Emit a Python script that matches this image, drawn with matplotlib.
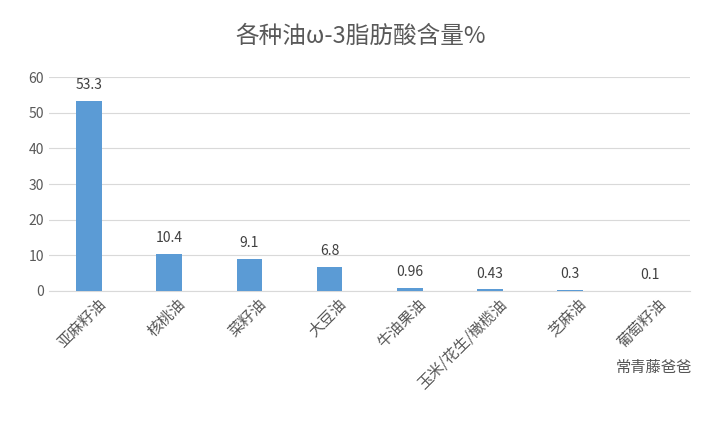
import matplotlib
matplotlib.use("Agg")
import matplotlib.pyplot as plt
from matplotlib.transforms import ScaledTranslation

plt.rcParams['font.family'] = ['Noto Sans CJK SC', 'DejaVu Sans']

categories = ["亚麻籽油", "核桃油", "菜籽油", "大豆油", "牛油果油", "玉米/花生/橄榄油", "芝麻油", "葡萄籽油"]
values = [53.3, 10.4, 9.1, 6.8, 0.96, 0.43, 0.3, 0.1]
labels = ["53.3", "10.4", "9.1", "6.8", "0.96", "0.43", "0.3", "0.1"]
yticks = [0, 10, 20, 30, 40, 50, 60]

fig = plt.figure(figsize=(7.22, 4.26), dpi=100)
ax = fig.add_axes([0.068, 0.317, 0.888, 0.502])
x = range(len(categories))
ax.bar(x, values, width=0.32, color="#5B9BD5", zorder=3)
for i, (v, t) in enumerate(zip(values, labels)):
    ax.text(i, v + 2.5, t, ha="center", va="bottom", fontsize=10, color="#404040")
ax.set_ylim(0, 60)
ax.set_xlim(-0.5, len(categories) - 0.5)
ax.set_yticks(yticks)
ax.tick_params(axis="y", length=0, labelsize=10, colors="#595959")
ax.tick_params(axis="x", length=0, labelsize=11, colors="#595959")
ax.set_xticks(list(x))
ax.set_xticklabels(categories, rotation=45, ha="right", rotation_mode="anchor")
off = ScaledTranslation(0.08, 0, fig.dpi_scale_trans)
for lbl in ax.get_xticklabels():
    lbl.set_transform(lbl.get_transform() + off)
ax.grid(axis="y", color="#D9D9D9", linewidth=0.8, zorder=0)
for s in ["top", "right", "left"]:
    ax.spines[s].set_visible(False)
ax.spines["bottom"].set_color("#D9D9D9")
fig.text(0.5, 0.915, "各种油ω-3脂肪酸含量%", ha="center", va="center", fontsize=17, color="#595959")
fig.text(0.905, 0.138, "常青藤爸爸", ha="center", va="center", fontsize=11, color="#555555")
fig.savefig("out.png", dpi=100)
